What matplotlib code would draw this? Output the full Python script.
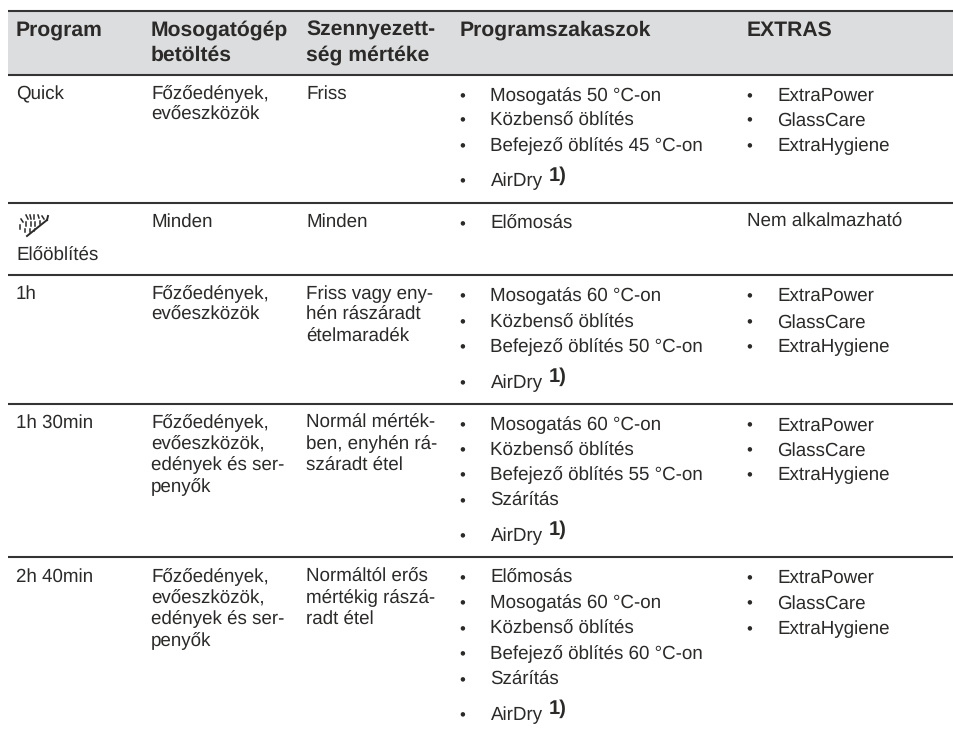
import matplotlib
matplotlib.use('Agg')
import matplotlib.pyplot as plt

plt.rcParams['font.family'] = ['Liberation Sans', 'DejaVu Sans']
plt.rcParams['text.hinting'] = 'no_hinting'

# Table content
headers = [['Program'], ['Mosogatógép', 'betöltés'], ['Szennyezett-', 'ség mértéke'], ['Programszakaszok'], ['EXTRAS']]
programs = ['Quick', 'Előöblítés', '1h', '1h 30min', '2h 40min']
loads = [['Főzőedények,', 'evőeszközök'],
         ['Minden'],
         ['Főzőedények,', 'evőeszközök'],
         ['Főzőedények,', 'evőeszközök,', 'edények és ser-', 'penyők'],
         ['Főzőedények,', 'evőeszközök,', 'edények és ser-', 'penyők']]
soils = [['Friss'],
         ['Minden'],
         ['Friss vagy eny-', 'hén rászáradt', 'ételmaradék'],
         ['Normál mérték-', 'ben, enyhén rá-', 'száradt étel'],
         ['Normáltól erős', 'mértékig rászá-', 'radt étel']]
phases = [['Mosogatás 50 °C-on', 'Közbenső öblítés', 'Befejező öblítés 45 °C-on', 'AirDry'],
          ['Előmosás'],
          ['Mosogatás 60 °C-on', 'Közbenső öblítés', 'Befejező öblítés 50 °C-on', 'AirDry'],
          ['Mosogatás 60 °C-on', 'Közbenső öblítés', 'Befejező öblítés 55 °C-on', 'Szárítás', 'AirDry'],
          ['Előmosás', 'Mosogatás 60 °C-on', 'Közbenső öblítés', 'Befejező öblítés 60 °C-on', 'Szárítás', 'AirDry']]
extras_list = ['ExtraPower', 'GlassCare', 'ExtraHygiene']
not_applicable = 'Nem alkalmazható'
footnote = '1)'

# Layout, in pixels of the 954x731 page
col_x = [16, 151, 306, 460, 747]
bullet_x = [462, 749]
item_x = [490.5, 777.5]
rule_y = [10.5, 75, 203, 275, 404, 557]
header_base = [36, 61]
text_base = [99, 227, 299, 428, 582]
line_step = 21.2
program_base = [99, 261, 299, 428, 582]
phase_base = [[101, 125.5, 151.5, 186.5],
              [229],
              [301, 327.5, 352, 388],
              [430.5, 455.5, 480, 506, 541],
              [583, 608.5, 634, 659, 685, 720]]
footnote_lift = 6

ink = '#2b2a29'
fig = plt.figure(figsize=(9.54, 7.31), dpi=100)
ax = fig.add_axes([0, 0, 1, 1])
ax.set_xlim(0, 954)
ax.set_ylim(731, 0)
ax.axis('off')

# header band and rules
ax.fill_between([8, 954], rule_y[0], rule_y[1], color='#dcddde', lw=0, zorder=0)
for y in rule_y:
    ax.plot([8, 954], [y, y], color='#343434', lw=1.5, solid_capstyle='butt')

for x, lines in zip(col_x, headers):
    for y, t in zip(header_base, lines):
        ax.text(x, y, t, fontsize=15.2, fontweight='bold', color=ink, ha='left', va='baseline')


def body(x, y, t, size=13.5, weight='normal'):
    ax.text(x, y, t, fontsize=size, fontweight=weight, color=ink, ha='left', va='baseline')


for i in range(len(programs)):
    body(col_x[0], program_base[i], programs[i])
    for j, t in enumerate(loads[i]):
        body(col_x[1], text_base[i] + j * line_step, t)
    for j, t in enumerate(soils[i]):
        body(col_x[2], text_base[i] + j * line_step, t)
    for y, t in zip(phase_base[i], phases[i]):
        body(bullet_x[0] - 3, y, '•', size=12)
        body(item_x[0], y, t)
        if t == 'AirDry':
            body(549, y - footnote_lift, footnote, size=14.5, weight='bold')
    if i == 1:
        body(col_x[4], text_base[i], not_applicable)
    else:
        for y, t in zip(phase_base[i], extras_list):
            body(bullet_x[1] - 3, y, '•', size=12)
            body(item_x[1], y, t)

# pre-rinse icon: spray above a dish
ax.plot([27, 47], [236, 220], color=ink, lw=1.4)
ax.plot([47, 48], [220, 216], color=ink, lw=1.4)
spray = [([26, 28], [215, 219]), ([30, 31], [215, 219]), ([34, 34], [215, 219]),
         ([38, 39], [215, 218]), ([42, 44], [216, 219]), ([21, 23], [219, 222]),
         ([26, 26], [222, 226]), ([31, 31], [222, 226]), ([35, 35], [222, 226]),
         ([40, 40], [221, 224]), ([20, 20], [225, 229]), ([25, 25], [229, 232]),
         ([30, 30], [229, 232]), ([35, 34], [229, 231])]
for xs, ys in spray:
    ax.plot(xs, ys, color=ink, lw=1.1)

fig.savefig('out.png', dpi=100)
